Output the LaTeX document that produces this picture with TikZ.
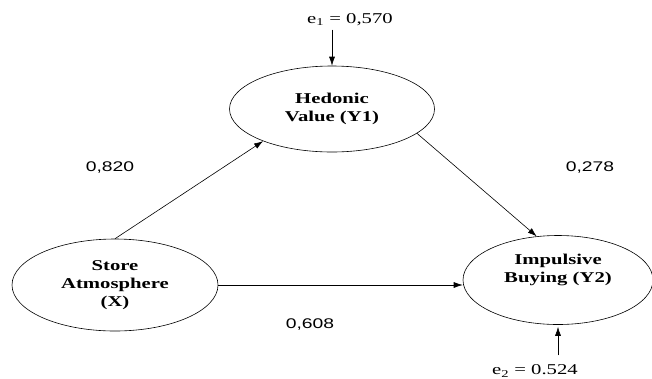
\documentclass[tikz,border=0pt]{standalone}
\usepackage{fontspec}
\setmainfont{Liberation Serif}[FakeStretch=1.38]
\setsansfont{Liberation Sans}[FakeStretch=1.38]
\usetikzlibrary{shapes.geometric,arrows.meta}
\tikzset{
	var/.style={draw,ellipse,line width=0.6pt,align=center,inner sep=0pt,font=\fontsize{15}{18}\selectfont\bfseries},
	coef/.style={font=\fontsize{14}{16}\sffamily},
	err/.style={font=\fontsize{15}{17}\selectfont},
	path/.style={-{Latex[length=9pt,width=6pt]},line width=0.6pt}
}
\begin{document}
\begin{tikzpicture}[x=1pt,y=-1pt]
	\useasboundingbox (0,0) rectangle (652,378);
	\node[var,minimum width=205pt,minimum height=86pt] (y1) at (332,109) {Hedonic\\Value (Y1)};
	\node[var,minimum width=206pt,minimum height=92pt] (x) at (115,285) {Store\\Atmosphere\\(X)};
	\node[var,minimum width=190pt,minimum height=89pt] (y2) at (558,280) {Impulsive\\Buying (Y2)\\[6pt]};
	\node[err] (e1) at (350,20) {e\textsubscript{1} = 0,570};
	\node[err] (e2) at (535,371) {e\textsubscript{2} = 0.524};
	\node[coef] (c1) at (110,168) {0,820};
	\node[coef] (c2) at (590,168) {0,278};
	\node[coef] (c3) at (310,324) {0,608};
	\draw[path] (x.north) -- (y1.205);
	\draw[path] (y1.-16) -- (y2.116);
	\draw[path] (x.east) -- (x.east -| y2.west);
	\draw[path] (e1.south -| y1.north) -- (y1.north);
	\draw[path,shorten <=6pt,shorten >=2pt] (e2.north -| y2.south) -- (y2.south);
\end{tikzpicture}
\end{document}
